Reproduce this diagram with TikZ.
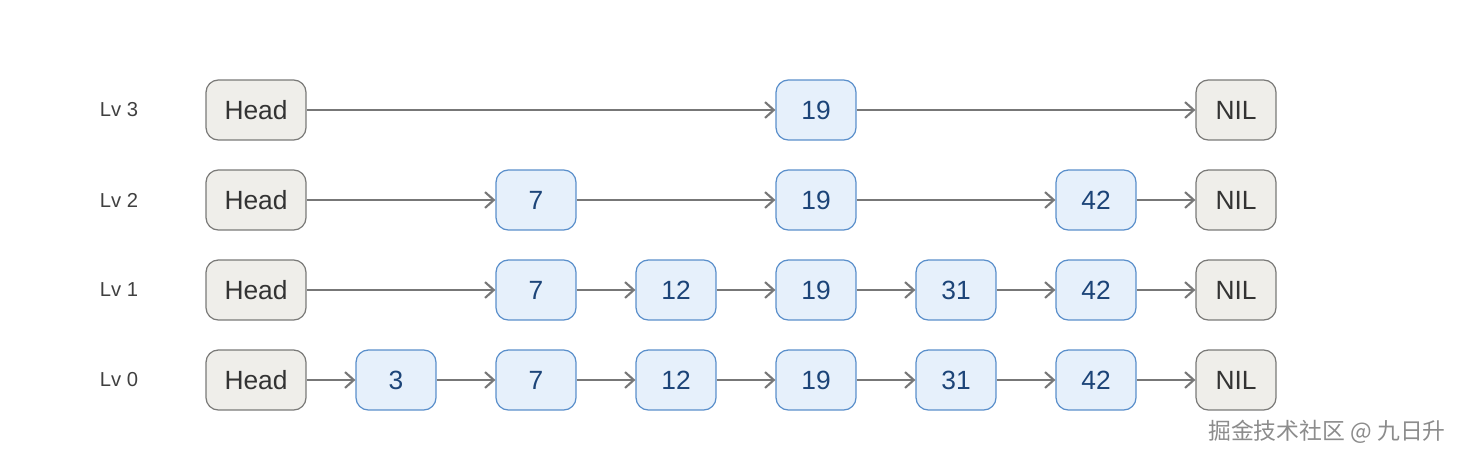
\documentclass[tikz,border=0pt]{standalone}
\usepackage{fontspec}
\setmainfont{Liberation Sans}
\newfontfamily\cjk{Noto Sans CJK SC}
\usetikzlibrary{arrows.meta, positioning}
\definecolor{headfill}{HTML}{EFEEEA}
\definecolor{headdraw}{HTML}{7A7A78}
\definecolor{keyfill}{HTML}{E6F0FB}
\definecolor{keydraw}{HTML}{5A8FCB}
\definecolor{keytext}{HTML}{1C4478}
\definecolor{linkcol}{HTML}{777777}

\begin{document}
\begin{tikzpicture}[x=0.02cm,y=-0.02cm]
    \tikzstyle{box}=[rounded corners=7pt, minimum height=1.2cm, inner sep=0pt, font=\fontsize{15}{18}\selectfont, line width=0.7pt]
    \tikzstyle{head}=[box, fill=headfill, draw=headdraw, text=black!80, minimum width=2cm]
    \tikzstyle{nil}=[box, fill=headfill, draw=headdraw, text=black!80, minimum width=1.6cm]
    \tikzstyle{key}=[box, fill=keyfill, draw=keydraw, text=keytext, minimum width=1.6cm]
    \tikzstyle{link}=[-{Straight Barb[length=5pt,width=9pt,line width=1.2pt]}, draw=linkcol, line width=1.3pt]
    \tikzstyle{level}=[font=\fontsize{11.5}{14}\selectfont, text=black!75]

    \useasboundingbox (0,0) rectangle (1472,460);

    % one row per level
    \foreach \lv/\y/\keys in {3/110/{19}, 2/200/{7,19,42}, 1/290/{7,12,19,31,42}, 0/380/{3,7,12,19,31,42}} {
        \node[level] (L-\lv) at (119,\y) {Lv \lv};
        \node[head] (H-\lv) at (256,\y) {Head};
        \node[nil] (N-\lv) at (1236,\y) {NIL};
        \coordinate (prev) at (H-\lv.east);
        \foreach \k in \keys {
            \pgfmathsetmacro{\xx}{\k==3 ? 396 : (\k==7 ? 536 : (\k==12 ? 676 : (\k==19 ? 816 : (\k==31 ? 956 : 1096))))}
            \node[key] (K-\lv-\k) at (\xx,\y) {\k};
            \draw[link] (prev) -- (K-\lv-\k.west);
            \coordinate (prev) at (K-\lv-\k.east);
        }
        \draw[link] (prev) -- (N-\lv.west);
    }

    \node[text=black!45, font=\cjk\fontsize{13}{16}\selectfont] (wm) at (1327,432) {掘金技术社区 @ 九日升};
\end{tikzpicture}
\end{document}
